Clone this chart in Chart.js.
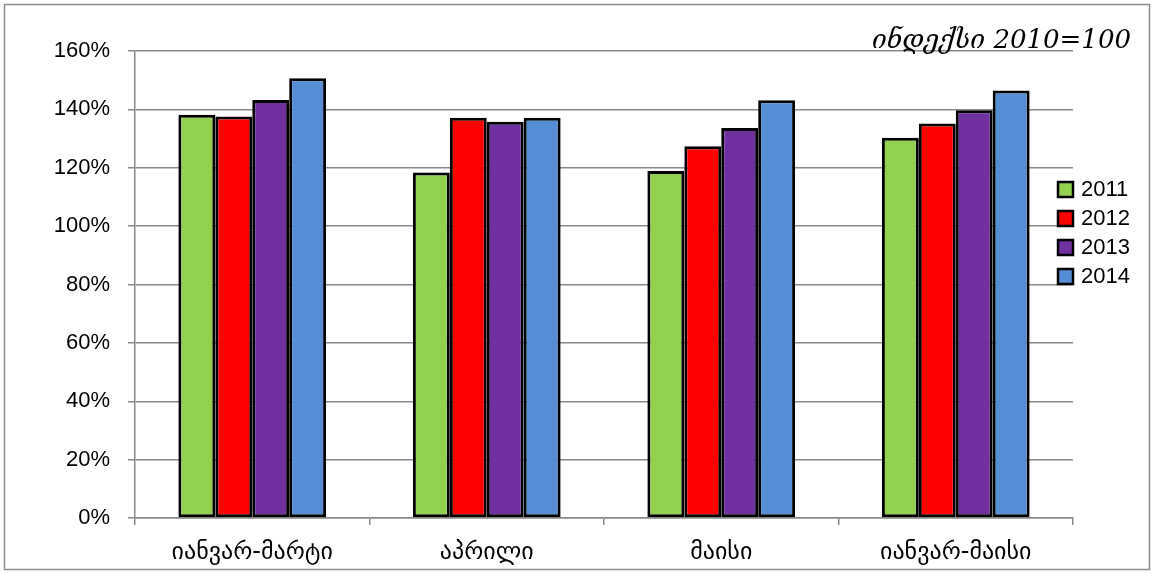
<!DOCTYPE html>
<html>
<head>
<meta charset="utf-8">
<script src="https://cdn.jsdelivr.net/npm/chart.js@4.4.0/dist/chart.umd.min.js"></script>
<style>
  html, body { margin: 0; padding: 0; background: #fff; }
  #wrap { width: 1154px; height: 574px; position: relative; }
</style>
</head>
<body>
<div id="wrap"><canvas id="chart" width="1154" height="574"></canvas></div>
<script>
// categories and series (percent, index 2010=100)
const categories = ["იანვარ-მარტი", "აპრილი", "მაისი", "იანვარ-მაისი"];
const seriesNames = ["2011", "2012", "2013", "2014"];
const values2011 = [138.2, 118.4, 118.9, 130.3];
const values2012 = [137.6, 137.1, 127.4, 135.2];
const values2013 = [143.2, 135.8, 133.6, 139.7];
const values2014 = [150.7, 137.1, 143.1, 146.5];
const seriesColors = ["#92D050", "#FF0000", "#7030A0", "#558ED5"];
const yTicks = [0, 20, 40, 60, 80, 100, 120, 140, 160];
const noteText = "ინდექსი 2010=100";

const allValues = [values2011, values2012, values2013, values2014];
const gridColor = "#898989";
const numFont = "'Liberation Sans', Arial, sans-serif";
const geoFont = "'DejaVu Sans', sans-serif";

// draws outer frame, the note on top right and the legend
const extras = {
  id: "extras",
  afterDraw(chart) {
    const ctx = chart.ctx;
    ctx.save();
    ctx.strokeStyle = "#8c8c8c";
    ctx.lineWidth = 1.5;
    ctx.strokeRect(4.5, 4.5, 1145, 565);

    ctx.fillStyle = "#000";
    ctx.font = "italic 26px 'DejaVu Serif', serif";
    ctx.textAlign = "right";
    ctx.textBaseline = "alphabetic";
    ctx.fillText(noteText, 1131, 48);

    // legend
    ctx.font = "22px " + numFont;
    ctx.textAlign = "left";
    ctx.textBaseline = "middle";
    chart.data.datasets.forEach((ds, i) => {
      const y = 189 + i * 29;
      ctx.fillStyle = ds.backgroundColor;
      ctx.fillRect(1058, y - 7, 15, 15);
      ctx.strokeStyle = "#000";
      ctx.lineWidth = 2.5;
      ctx.strokeRect(1058, y - 7, 15, 15);
      ctx.fillStyle = "#000";
      ctx.fillText(ds.label, 1081, y + 1);
    });
    ctx.restore();
  }
};

new Chart(document.getElementById("chart"), {
  type: "bar",
  data: {
    labels: categories,
    datasets: seriesNames.map((name, i) => ({
      label: name,
      data: allValues[i],
      backgroundColor: seriesColors[i],
      borderColor: "#000",
      borderWidth: 3,
      borderSkipped: false,
      categoryPercentage: 0.63,
      barPercentage: 1.0
    }))
  },
  options: {
    responsive: false,
    animation: false,
    layout: { padding: { left: 0, right: 81, top: 51, bottom: 0 } },
    plugins: {
      legend: { display: false },
      tooltip: { enabled: false }
    },
    scales: {
      x: {
        afterFit: s => { s.height = 56; },
        grid: {
          offset: true,
          drawOnChartArea: false,
          color: gridColor,
          lineWidth: 1.5,
          tickLength: 7
        },
        border: { color: gridColor, width: 1.5 },
        ticks: {
          color: "#000",
          padding: 13,
          font: { family: geoFont, size: 24 }
        }
      },
      y: {
        min: 0,
        max: 160,
        afterFit: s => { s.width = 135; },
        afterBuildTicks: s => { s.ticks = yTicks.map(v => ({ value: v })); },
        grid: {
          color: gridColor,
          lineWidth: 1.5,
          tickLength: 7
        },
        border: { color: gridColor, width: 1.5 },
        ticks: {
          color: "#000",
          padding: 18,
          font: { family: numFont, size: 22 },
          callback: v => v + "%"
        }
      }
    }
  },
  plugins: [extras]
});
</script>
</body>
</html>
